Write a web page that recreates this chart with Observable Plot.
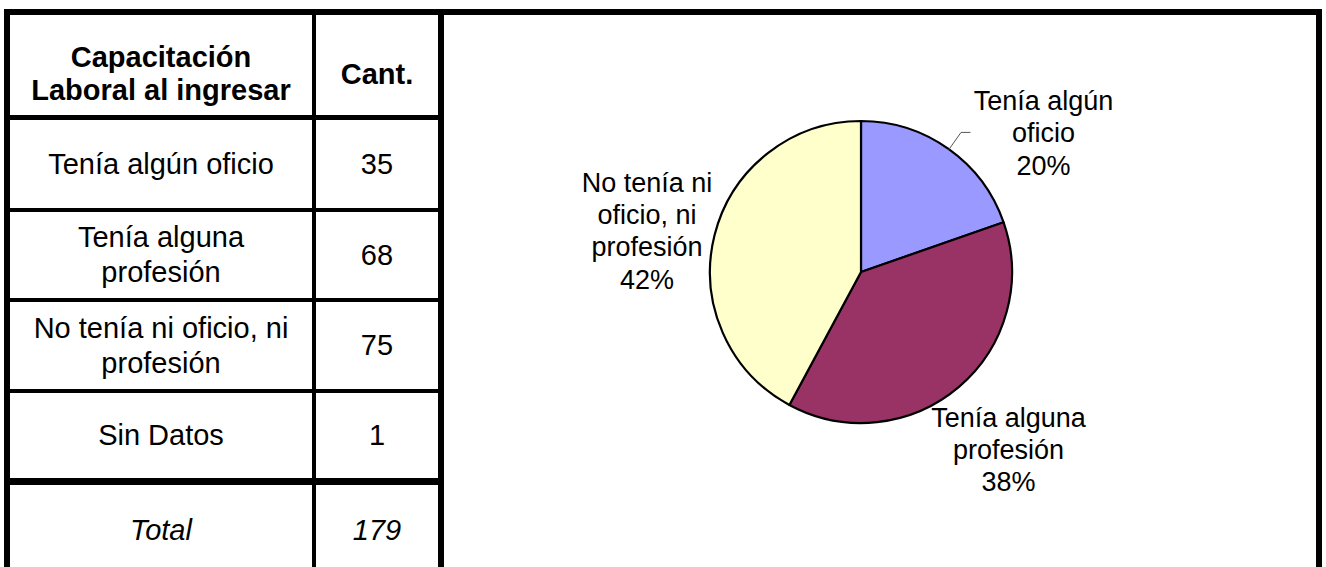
<!DOCTYPE html>
<html><head><meta charset="utf-8">
<script src="https://cdn.jsdelivr.net/npm/d3@7"></script>
<script src="https://cdn.jsdelivr.net/npm/@observablehq/plot@0.6"></script>
<style>
html,body{margin:0;padding:0;background:#fff;width:1326px;height:567px;overflow:hidden;font-family:"Liberation Sans",Arial,sans-serif;}
#frame{position:absolute;left:4px;top:9px;width:1318px;height:620px;background:#000;}
.cell{position:absolute;background:#fff;display:flex;align-items:center;justify-content:center;text-align:center;font-size:29px;line-height:35px;color:#000;box-sizing:border-box;padding:0 14px;white-space:pre-line;}
#chart{position:absolute;left:444px;top:15px;width:872px;height:560px;background:#fff;}
</style></head><body>
<div id="frame"></div>
<div id="table"></div>
<div id="chart"></div>
<script>
// ---- data ----
const headerLabels = ["Capacitación\nLaboral al ingresar", "Cant."];
const categories = ["Tenía algún oficio", "Tenía alguna profesión", "No tenía ni oficio, ni profesión", "Sin Datos"];
const counts = [35, 68, 75, 1];
const totalLabel = "Total";
const pieCategories = ["Tenía algún oficio", "Tenía alguna profesión", "No tenía ni oficio, ni profesión"];
const pieLabelLines = ["Tenía algún\noficio", "Tenía alguna\nprofesión", "No tenía ni\noficio, ni\nprofesión"];
const pieColors = ["#9999FF", "#993366", "#FFFFCC"];

// ---- layout ----
const colX = [10, 316], colW = [302, 122];
const rowY = [15, 120, 212, 302, 393, 485], rowH = [100, 88, 86, 87, 85, 90];
const labelRadius = 1.48;
const labelNudge = [[52.6, 41.6], [2, 6], [2.2, 12]]; // px, screen direction
const leaderFor = [true, false, false];

// ---- table ----
const table = document.getElementById("table");
function cell(text, r, c, style) {
  const d = document.createElement("div");
  d.className = "cell";
  d.textContent = text;
  Object.assign(d.style, {left: colX[c] + "px", top: rowY[r] + "px", width: colW[c] + "px", height: rowH[r] + "px"}, style || {});
  table.appendChild(d);
}
headerLabels.forEach((t, c) => cell(t, 0, c, {fontWeight: "bold", paddingTop: "18px", lineHeight: "33px"}));
categories.forEach((t, i) => { cell(t, i + 1, 0); cell(String(counts[i]), i + 1, 1); });
cell(totalLabel, 5, 0, {fontStyle: "italic"});
cell(String(d3.sum(counts)), 5, 1, {fontStyle: "italic"});

// ---- pie ----
const pieData = pieCategories.map((name, i) => ({name, value: counts[categories.indexOf(name)], label: pieLabelLines[i]}));
const pieTotal = d3.sum(pieData, d => d.value);
const arcs = d3.pie().sort(null).value(d => d.value)(pieData);
const slices = arcs.map((a, i) => ({...a, name: a.data.name, mid: (a.startAngle + a.endAngle) / 2, i}));

const R = 151, cx = 417, cy = 257, W = 872, H = 552;

const labels = slices.map(s => ({
  x: Math.sin(s.mid) * labelRadius + labelNudge[s.i][0] / R,
  y: Math.cos(s.mid) * labelRadius - labelNudge[s.i][1] / R,
  text: `${s.data.label}\n${Math.round(s.value / pieTotal * 100)}%`
}));

const leaders = slices.filter(s => leaderFor[s.i]).flatMap(s => {
  const ex = Math.sin(s.mid), ey = Math.cos(s.mid);
  const bx = ex * 1.138, by = ey * 1.138;
  return [{x: ex, y: ey, k: s.i}, {x: bx, y: by, k: s.i}, {x: bx + 9 / R, y: by, k: s.i}];
});

const chart = Plot.plot({
  width: W, height: H, margin: 0,
  x: {domain: [-1, 1], range: [cx - R, cx + R], axis: null},
  y: {domain: [-1, 1], range: [cy + R, cy - R], axis: null},
  color: {domain: pieCategories, range: pieColors},
  style: {background: "white", fontFamily: "'Liberation Sans', Arial, sans-serif", overflow: "visible"},
  marks: [
    Plot.dot(slices, {
      x: () => 0, y: () => 0, fill: "name",
      render(index, scales, values) {
        const r = scales.x(1) - scales.x(0);
        const arc = d3.arc().innerRadius(0).outerRadius(r);
        const g = d3.create("svg:g");
        for (const i of index) {
          g.append("path")
            .attr("transform", `translate(${values.x[i]},${values.y[i]})`)
            .attr("d", arc(slices[i]))
            .attr("fill", values.fill[i])
            .attr("stroke", "#000")
            .attr("stroke-width", 2.2)
            .attr("stroke-linejoin", "round");
        }
        return g.node();
      }
    }),
    Plot.line(leaders, {x: "x", y: "y", z: "k", stroke: "#555", strokeWidth: 1}),
    Plot.text(labels, {x: "x", y: "y", text: "text", fontSize: 27, lineHeight: 1.2, lineAnchor: "middle", textAnchor: "middle", fill: "#000"})
  ]
});
document.getElementById("chart").appendChild(chart);
</script>
</body></html>
